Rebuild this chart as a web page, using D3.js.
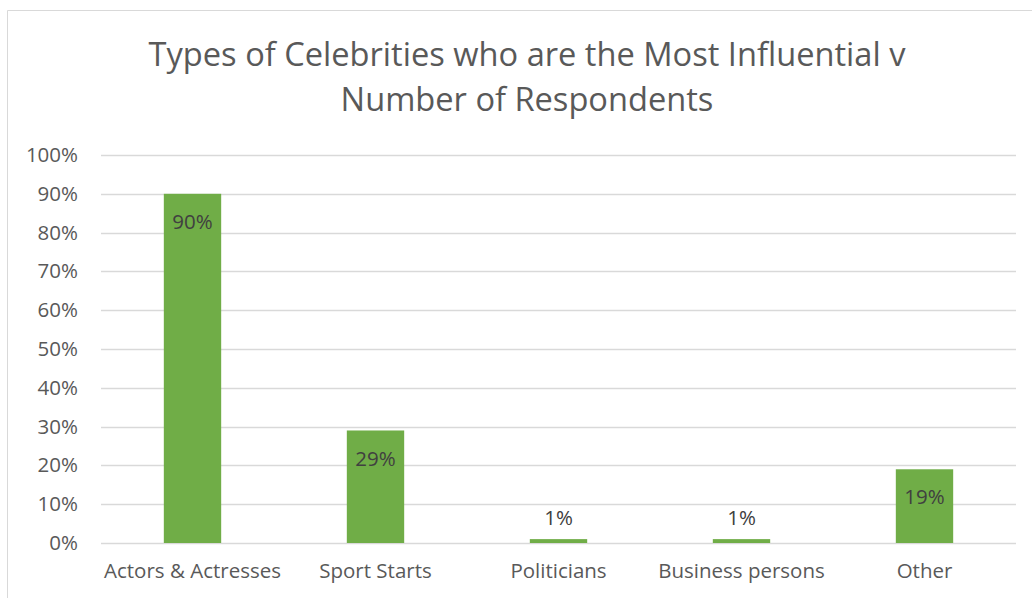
<!DOCTYPE html>
<html>
<head>
<meta charset="utf-8">
<script src="https://cdn.jsdelivr.net/npm/d3@7/dist/d3.min.js"></script>
<style>
  html, body { margin: 0; padding: 0; background: #fff; }
  svg { display: block; font-family: "Open Sans", "Liberation Sans", sans-serif; }
</style>
</head>
<body>
<svg id="chart" width="1032" height="598"></svg>
<script>
// Survey results: share of respondents naming each celebrity type
const categories = ["Actors & Actresses", "Sport Starts", "Politicians", "Business persons", "Other"];
const shares = [90, 29, 1, 1, 19];
const yTicks = [0, 10, 20, 30, 40, 50, 60, 70, 80, 90, 100];
const titleLines = ["Types of Celebrities who are the Most Influential v", "Number of Respondents"];

const W = 1032, H = 598;
const plot = { left: 101, right: 1016, top: 155, bottom: 543 };
const gapWidth = 2.19; // gap between bars relative to bar width
const labelSize = 20.5;

const svg = d3.select("#chart");

// Chart frame
svg.append("path")
  .attr("d", `M7.5,${H} V10.5 H${W}`)
  .attr("fill", "none")
  .attr("stroke", "#d9d9d9")
  .attr("stroke-width", 1);

const x = d3.scaleBand().domain(categories).range([plot.left, plot.right]).padding(0);
const y = d3.scaleLinear().domain([0, 100]).range([plot.bottom, plot.top]);
const barW = x.bandwidth() / (1 + gapWidth);

// Fit a text element to a target width by adjusting its font size
function fitWidth(sel, target) {
  const node = sel.node();
  const fs = parseFloat(sel.attr("font-size"));
  const w = node.getComputedTextLength();
  sel.attr("font-size", (fs * target / w).toFixed(2));
}

// Title
const title = svg.append("g").attr("fill", "#595959").attr("text-anchor", "middle");
const t1 = title.append("text").attr("x", 527).attr("y", 66).attr("font-size", 28).text(titleLines[0]);
fitWidth(t1, 757);
const t2 = title.append("text").attr("x", 527).attr("y", 111).attr("font-size", 28).text(titleLines[1]);
t2.attr("font-size", t1.attr("font-size"));

// Gridlines
svg.append("g")
  .selectAll("line")
  .data(yTicks)
  .join("line")
  .attr("x1", plot.left).attr("x2", plot.right)
  .attr("y1", d => Math.round(y(d)) + 0.5).attr("y2", d => Math.round(y(d)) + 0.5)
  .attr("stroke", "#d9d9d9")
  .attr("stroke-width", 1.5);

// Y axis labels
const yAxis = svg.append("g")
  .attr("transform", `translate(${plot.left - 23},0)`)
  .call(d3.axisLeft(y).tickValues(yTicks).tickFormat(d => d + "%").tickSize(0).tickPadding(0));
yAxis.select(".domain").remove();
yAxis.selectAll("text")
  .attr("fill", "#595959")
  .attr("font-size", labelSize)
  .attr("font-family", "Open Sans, sans-serif");

// Bars
svg.append("g")
  .selectAll("rect")
  .data(shares)
  .join("rect")
  .attr("x", (d, i) => x(categories[i]) + (x.bandwidth() - barW) / 2)
  .attr("width", barW)
  .attr("y", d => y(d))
  .attr("height", d => y(0) - y(d))
  .attr("fill", "#70ad47");

// Value labels: inside the bar end when there is room, otherwise just above
svg.append("g")
  .selectAll("text")
  .data(shares)
  .join("text")
  .attr("x", (d, i) => x(categories[i]) + x.bandwidth() / 2)
  .attr("y", d => (y(0) - y(d) > 40 ? y(d) + 28 : y(d) - 21))
  .attr("dy", "0.35em")
  .attr("text-anchor", "middle")
  .attr("fill", "#404040")
  .attr("font-size", labelSize)
  .text(d => d + "%");

// Category labels
const xAxis = svg.append("g")
  .attr("transform", `translate(0,${plot.bottom + 20})`)
  .call(d3.axisBottom(x).tickSize(0).tickPadding(0));
xAxis.select(".domain").remove();
xAxis.selectAll("text")
  .attr("fill", "#595959")
  .attr("font-size", labelSize)
  .attr("font-family", "Open Sans, sans-serif");
</script>
</body>
</html>
